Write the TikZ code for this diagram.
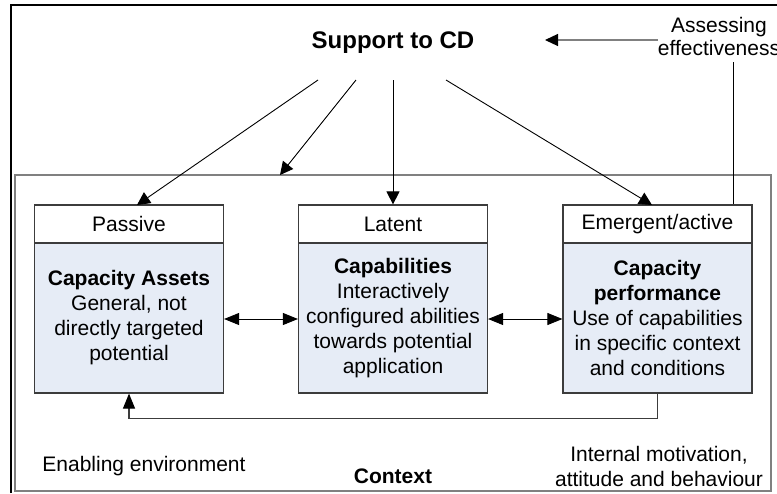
\documentclass[tikz,border=0pt]{standalone}
\usepackage{fontspec}
\setmainfont{Liberation Sans}
\usetikzlibrary{arrows.meta}
\definecolor{boxfill}{HTML}{E6ECF6}
\definecolor{boxline}{HTML}{3C3C3C}
\definecolor{ctxline}{HTML}{808080}
\tikzset{
  reg/.style={font=\fontsize{21}{25}\selectfont},
  hdr/.style={draw=boxline, line width=1.2pt, fill=white, minimum width=189pt, minimum height=38pt, inner sep=0pt, reg},
  body/.style={draw=boxline, line width=1.2pt, fill=boxfill, minimum width=189pt, minimum height=150pt, inner sep=0pt, align=center, reg},
  conn/.style={line width=0.9pt, draw=black, -{Triangle[length=13pt,width=13pt]}},
  dbl/.style={line width=0.9pt, draw=black, {Triangle[length=15pt,width=12pt]}-{Triangle[length=15pt,width=12pt]}},
  lbl/.style={reg, align=center, inner sep=0pt}
}
\begin{document}
\begin{tikzpicture}[x=1pt,y=-1pt]
\useasboundingbox (0,0) rectangle (777,493);
\fill[white] (0,0) rectangle (777,493);
% outer frame (cropped)
\draw[line width=2pt, black] (11,493) -- (11,5) -- (777,5);
% context box
\node[draw=ctxline, line width=1.3pt, minimum width=756pt, minimum height=316pt, inner sep=0pt] (ctx) at (393,333) {};
% title
\node[font=\fontsize{24}{28}\selectfont\bfseries, anchor=base, inner sep=0pt] (support) at (393,48) {Support to CD};
\node[lbl, font=\fontsize{21}{23}\selectfont] (assess) at (719,36) {Assessing\\effectiveness};
% boxes
\node[hdr] (paH) at (129,224) {Passive};
\node[body] (paB) at (129,318) {\textbf{Capacity Assets}\\General, not\\directly targeted\\potential};
\node[hdr] (laH) at (393,224) {Latent};
\node[body] (laB) at (393,318) {\textbf{Capabilities}\\Interactively\\configured abilities\\towards potential\\application};
\node[hdr] (emH) at (657.5,224) {Emergent/active};
\node[body] (emB) at (657.5,318) {\textbf{Capacity}\\\textbf{performance}\\Use of capabilities\\in specific context\\and conditions};
% bottom labels
\node[lbl] (enab) at (144,466) {Enabling environment};
\node[lbl, font=\fontsize{21}{25}\selectfont\bfseries] (context) at (393,476) {Context};
\node[lbl] (intern) at (659,466) {Internal motivation,\\attitude and behaviour};
% coordinates
\coordinate (s1) at (318,80);
\coordinate (s2) at (356,80);
\coordinate (s3) at (393,80);
\coordinate (s4) at (446,80);
\coordinate (t1) at (137,205);
\coordinate (t2) at (280,175);
\coordinate (t4) at (652,205);
\coordinate (aTip) at (545,40);
\coordinate (aStart) at (658,40);
\coordinate (aeTop) at (733,62);
% connectors
\draw[conn] (s1) -- (t1);
\draw[conn] (s2) -- (t2);
\draw[conn] (s3) -- (laH.north);
\draw[conn] (s4) -- (t4);
\draw[line width=1.2pt, draw=ctxline, -{Triangle[length=13pt,width=12pt,color=black]}] (aStart) -- (aTip);
\draw[line width=0.9pt] (aeTop |- emH.north) -- (aeTop);
\draw[dbl] (paB.east |- 0,319) -- (laB.west |- 0,319);
\draw[dbl] (laB.east |- 0,319) -- (emB.west |- 0,319);
\draw[line width=1.2pt, draw=boxline, -{Triangle[length=15pt,width=12pt,color=black]}] (emB.south) -- ++(0,25) -| (paB.south);
\end{tikzpicture}
\end{document}
